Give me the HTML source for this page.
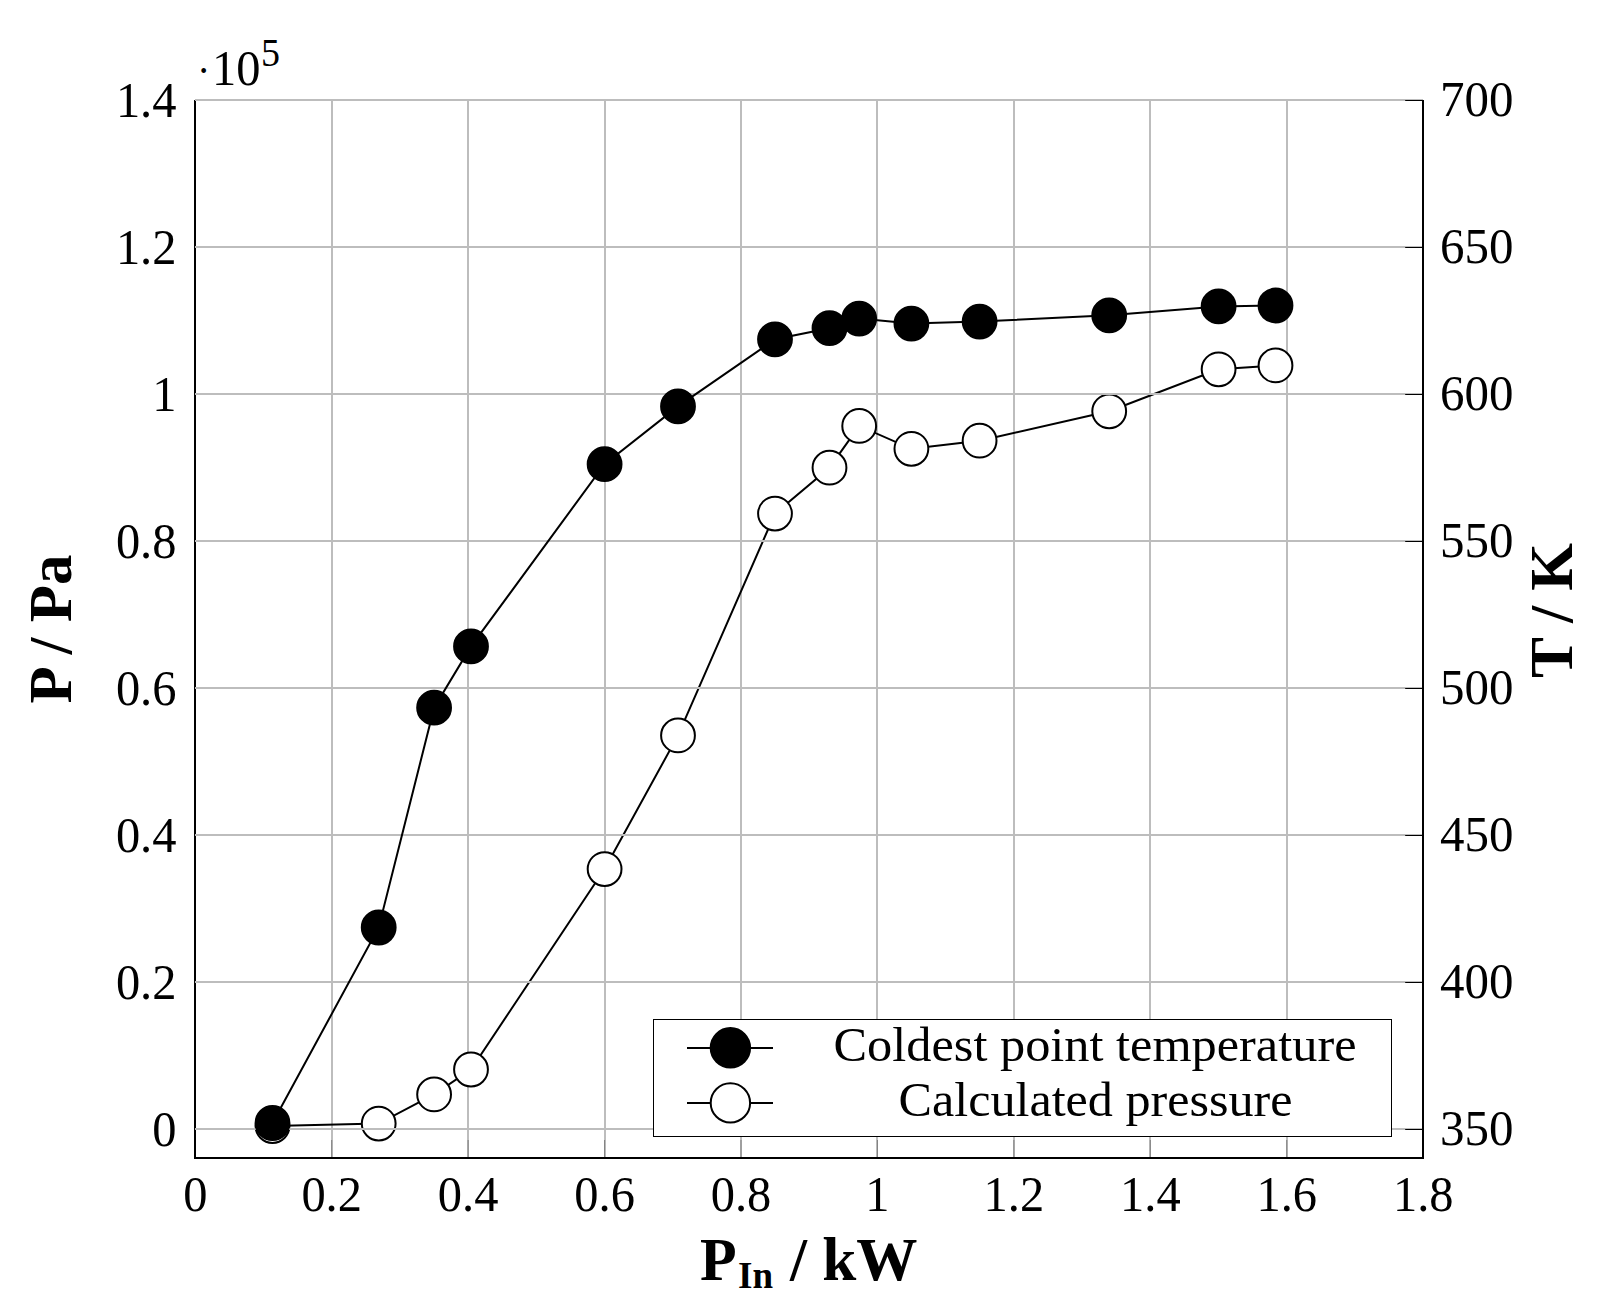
<!DOCTYPE html>
<html lang="en"><head><meta charset="utf-8"><title>Plot</title>
<style>html,body{margin:0;padding:0;background:#fff}svg{display:block}text{font-family:"Liberation Serif", serif;fill:#000}</style></head><body>
<svg width="1601" height="1305" viewBox="0 0 1601 1305">
<rect width="1601" height="1305" fill="#fff"/>
<path d="M332.00 99.00V1158.00M468.00 99.00V1158.00M605.00 99.00V1158.00M741.00 99.00V1158.00M877.00 99.00V1158.00M1014.00 99.00V1158.00M1150.00 99.00V1158.00M1287.00 99.00V1158.00" stroke="#bdbdbd" stroke-width="2" fill="none"/>
<path d="M331.69 1140.00V1158.00M468.13 1140.00V1158.00M604.57 1140.00V1158.00M741.01 1140.00V1158.00M877.44 1140.00V1158.00M1013.88 1140.00V1158.00M1150.32 1140.00V1158.00M1286.76 1140.00V1158.00" stroke="#808080" stroke-width="1" fill="none"/>
<polyline points="272.5,1126.0 378.7,1123.6 434.1,1094.4 471.0,1069.5 604.6,869.1 678.0,735.4 775.0,513.6 829.5,467.7 859.2,425.9 911.4,448.8 979.6,440.7 1109.2,411.3 1218.6,369.3 1275.5,365.4" fill="none" stroke="#000" stroke-width="2"/><circle cx="272.5" cy="1126.0" r="16.9" fill="#fff" stroke="#000" stroke-width="2"/><circle cx="378.7" cy="1123.6" r="16.9" fill="#fff" stroke="#000" stroke-width="2"/><circle cx="434.1" cy="1094.4" r="16.9" fill="#fff" stroke="#000" stroke-width="2"/><circle cx="471.0" cy="1069.5" r="16.9" fill="#fff" stroke="#000" stroke-width="2"/><circle cx="604.6" cy="869.1" r="16.9" fill="#fff" stroke="#000" stroke-width="2"/><circle cx="678.0" cy="735.4" r="16.9" fill="#fff" stroke="#000" stroke-width="2"/><circle cx="775.0" cy="513.6" r="16.9" fill="#fff" stroke="#000" stroke-width="2"/><circle cx="829.5" cy="467.7" r="16.9" fill="#fff" stroke="#000" stroke-width="2"/><circle cx="859.2" cy="425.9" r="16.9" fill="#fff" stroke="#000" stroke-width="2"/><circle cx="911.4" cy="448.8" r="16.9" fill="#fff" stroke="#000" stroke-width="2"/><circle cx="979.6" cy="440.7" r="16.9" fill="#fff" stroke="#000" stroke-width="2"/><circle cx="1109.2" cy="411.3" r="16.9" fill="#fff" stroke="#000" stroke-width="2"/><circle cx="1218.6" cy="369.3" r="16.9" fill="#fff" stroke="#000" stroke-width="2"/><circle cx="1275.5" cy="365.4" r="16.9" fill="#fff" stroke="#000" stroke-width="2"/>
<path d="M195.00 100.00V1158.00H1423.00V100.00" stroke="#000" stroke-width="2" fill="none" stroke-linejoin="miter"/>
<path d="M195.00 1129.00H1423.00M195.00 982.00H1423.00M195.00 835.00H1423.00M195.00 688.00H1423.00M195.00 541.00H1423.00M195.00 394.00H1423.00M195.00 247.00H1423.00M195.00 100.00H1423.00" stroke="#bdbdbd" stroke-width="2" fill="none"/>
<path d="M1423 100.00V1159.00" stroke="#000" stroke-width="2" fill="none"/>
<path d="M1405.20 1129.50H1423.20M1405.20 982.50H1423.20M1405.20 835.50H1423.20M1405.20 688.50H1423.20M1405.20 541.50H1423.20M1405.20 394.50H1423.20M1405.20 247.50H1423.20M1405.20 100.50H1423.20" stroke="#000" stroke-width="1" fill="none"/>
<polyline points="272.5,1123.0 378.7,927.5 434.1,707.7 471.0,646.4 604.6,464.2 678.0,406.4 775.0,339.3 829.5,328.2 859.2,318.6 911.4,323.6 979.6,321.6 1109.2,315.3 1218.6,306.4 1275.5,305.5" fill="none" stroke="#000" stroke-width="2"/><circle cx="272.5" cy="1123.0" r="16.9" fill="#000" stroke="#000" stroke-width="2"/><circle cx="378.7" cy="927.5" r="16.9" fill="#000" stroke="#000" stroke-width="2"/><circle cx="434.1" cy="707.7" r="16.9" fill="#000" stroke="#000" stroke-width="2"/><circle cx="471.0" cy="646.4" r="16.9" fill="#000" stroke="#000" stroke-width="2"/><circle cx="604.6" cy="464.2" r="16.9" fill="#000" stroke="#000" stroke-width="2"/><circle cx="678.0" cy="406.4" r="16.9" fill="#000" stroke="#000" stroke-width="2"/><circle cx="775.0" cy="339.3" r="16.9" fill="#000" stroke="#000" stroke-width="2"/><circle cx="829.5" cy="328.2" r="16.9" fill="#000" stroke="#000" stroke-width="2"/><circle cx="859.2" cy="318.6" r="16.9" fill="#000" stroke="#000" stroke-width="2"/><circle cx="911.4" cy="323.6" r="16.9" fill="#000" stroke="#000" stroke-width="2"/><circle cx="979.6" cy="321.6" r="16.9" fill="#000" stroke="#000" stroke-width="2"/><circle cx="1109.2" cy="315.3" r="16.9" fill="#000" stroke="#000" stroke-width="2"/><circle cx="1218.6" cy="306.4" r="16.9" fill="#000" stroke="#000" stroke-width="2"/><circle cx="1275.5" cy="305.5" r="16.9" fill="#000" stroke="#000" stroke-width="2"/>
<rect x="653.5" y="1019.5" width="738" height="117" fill="#fff" stroke="#000" stroke-width="1"/>
<path d="M687 1048H773M687 1103H773" stroke="#000" stroke-width="2"/>
<circle cx="730.4" cy="1047.8" r="19.7" fill="#000" stroke="#000" stroke-width="2"/>
<circle cx="730.4" cy="1102.9" r="19.7" fill="#fff" stroke="#000" stroke-width="2"/>
<text transform="translate(833.50 1061.20) scale(1 1.000)" font-size="48.5" text-anchor="start" textLength="523" lengthAdjust="spacingAndGlyphs">Coldest point temperature</text>
<text transform="translate(898.50 1116.00) scale(1 1.000)" font-size="48.5" text-anchor="start" textLength="394" lengthAdjust="spacingAndGlyphs">Calculated pressure</text>
<text transform="translate(176.50 1145.60) scale(1 1.050)" font-size="48.5" text-anchor="end">0</text>
<text transform="translate(176.50 998.60) scale(1 1.050)" font-size="48.5" text-anchor="end">0.2</text>
<text transform="translate(176.50 851.60) scale(1 1.050)" font-size="48.5" text-anchor="end">0.4</text>
<text transform="translate(176.50 704.60) scale(1 1.050)" font-size="48.5" text-anchor="end">0.6</text>
<text transform="translate(176.50 557.60) scale(1 1.050)" font-size="48.5" text-anchor="end">0.8</text>
<text transform="translate(176.50 410.60) scale(1 1.050)" font-size="48.5" text-anchor="end">1</text>
<text transform="translate(176.50 263.60) scale(1 1.050)" font-size="48.5" text-anchor="end">1.2</text>
<text transform="translate(176.50 116.60) scale(1 1.050)" font-size="48.5" text-anchor="end">1.4</text>
<text transform="translate(1440.00 1145.40) scale(1 1.050)" font-size="48.5" text-anchor="start" textLength="73.5" lengthAdjust="spacingAndGlyphs">350</text>
<text transform="translate(1440.00 998.40) scale(1 1.050)" font-size="48.5" text-anchor="start" textLength="73.5" lengthAdjust="spacingAndGlyphs">400</text>
<text transform="translate(1440.00 851.40) scale(1 1.050)" font-size="48.5" text-anchor="start" textLength="73.5" lengthAdjust="spacingAndGlyphs">450</text>
<text transform="translate(1440.00 704.40) scale(1 1.050)" font-size="48.5" text-anchor="start" textLength="73.5" lengthAdjust="spacingAndGlyphs">500</text>
<text transform="translate(1440.00 557.40) scale(1 1.050)" font-size="48.5" text-anchor="start" textLength="73.5" lengthAdjust="spacingAndGlyphs">550</text>
<text transform="translate(1440.00 410.40) scale(1 1.050)" font-size="48.5" text-anchor="start" textLength="73.5" lengthAdjust="spacingAndGlyphs">600</text>
<text transform="translate(1440.00 263.40) scale(1 1.050)" font-size="48.5" text-anchor="start" textLength="73.5" lengthAdjust="spacingAndGlyphs">650</text>
<text transform="translate(1440.00 116.40) scale(1 1.050)" font-size="48.5" text-anchor="start" textLength="73.5" lengthAdjust="spacingAndGlyphs">700</text>
<text transform="translate(195.25 1210.50) scale(1 1.050)" font-size="48.5" text-anchor="middle">0</text>
<text transform="translate(331.69 1210.50) scale(1 1.050)" font-size="48.5" text-anchor="middle">0.2</text>
<text transform="translate(468.13 1210.50) scale(1 1.050)" font-size="48.5" text-anchor="middle">0.4</text>
<text transform="translate(604.57 1210.50) scale(1 1.050)" font-size="48.5" text-anchor="middle">0.6</text>
<text transform="translate(741.01 1210.50) scale(1 1.050)" font-size="48.5" text-anchor="middle">0.8</text>
<text transform="translate(877.44 1210.50) scale(1 1.050)" font-size="48.5" text-anchor="middle">1</text>
<text transform="translate(1013.88 1210.50) scale(1 1.050)" font-size="48.5" text-anchor="middle">1.2</text>
<text transform="translate(1150.32 1210.50) scale(1 1.050)" font-size="48.5" text-anchor="middle">1.4</text>
<text transform="translate(1286.76 1210.50) scale(1 1.050)" font-size="48.5" text-anchor="middle">1.6</text>
<text transform="translate(1423.20 1210.50) scale(1 1.050)" font-size="48.5" text-anchor="middle">1.8</text>
<text transform="translate(197.00 85.00) scale(1 1.050)" font-size="48.5" text-anchor="start"><tspan font-size="40">·</tspan><tspan dx="1.6">10</tspan><tspan dx="0.5" dy="-18.5" font-size="38">5</tspan></text>
<text transform="translate(70.70 629.00) rotate(-90) scale(1 1.030)" font-size="60" text-anchor="middle" font-weight="bold" textLength="149" lengthAdjust="spacingAndGlyphs">P / Pa</text>
<text transform="translate(1572.30 610.50) rotate(-90) scale(1 1.030)" font-size="60" text-anchor="middle" font-weight="bold" textLength="135" lengthAdjust="spacingAndGlyphs">T / K</text>
<text transform="translate(700.00 1280.00) scale(1 1.030)" font-size="60" text-anchor="start" font-weight="bold" fill="#242424">P</text>
<text transform="translate(738.00 1288.00) scale(1 1.030)" font-size="37" text-anchor="start" font-weight="bold" fill="#242424">In</text>
<text transform="translate(790.00 1280.00) scale(1 1.030)" font-size="60" text-anchor="start" font-weight="bold" fill="#242424" textLength="127.5" lengthAdjust="spacingAndGlyphs">/ kW</text>
</svg></body></html>
